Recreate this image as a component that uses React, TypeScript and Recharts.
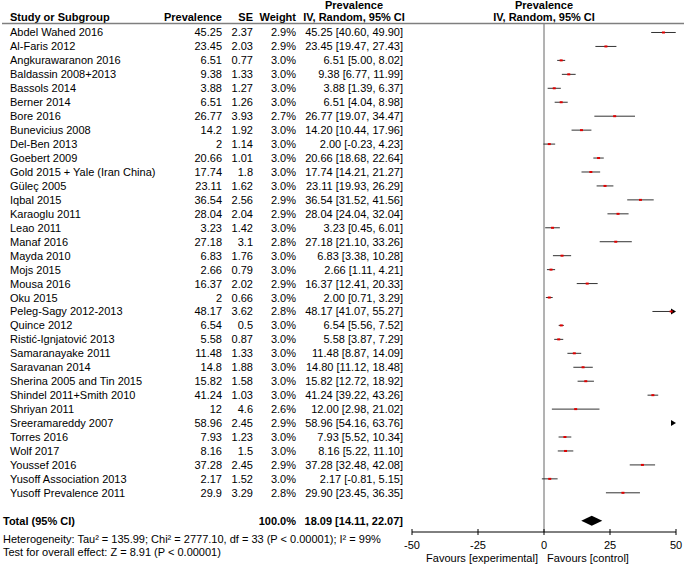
import { ScatterChart, Scatter, XAxis, YAxis, ReferenceLine } from "recharts";

const FONT = "'Liberation Sans', Arial, sans-serif";

const studies = [
  "Abdel Wahed 2016", "Al-Faris 2012", "Angkurawaranon 2016", "Baldassin 2008+2013", "Bassols 2014",
  "Berner 2014", "Bore 2016", "Bunevicius 2008", "Del-Ben 2013", "Goebert 2009",
  "Gold 2015 + Yale (Iran China)", "Güleç 2005", "Iqbal 2015", "Karaoglu 2011", "Leao 2011",
  "Manaf 2016", "Mayda 2010", "Mojs 2015", "Mousa 2016", "Oku 2015",
  "Peleg-Sagy 2012-2013", "Quince 2012", "Ristić-Ignjatović 2013", "Samaranayake 2011", "Saravanan 2014",
  "Sherina 2005 and Tin 2015", "Shindel 2011+Smith 2010", "Shriyan 2011", "Sreeramareddy 2007", "Torres 2016",
  "Wolf 2017", "Youssef 2016", "Yusoff Association 2013", "Yusoff Prevalence 2011",
];
const prevalence = [
  45.25, 23.45, 6.51, 9.38, 3.88, 6.51, 26.77, 14.2, 2, 20.66,
  17.74, 23.11, 36.54, 28.04, 3.23, 27.18, 6.83, 2.66, 16.37, 2,
  48.17, 6.54, 5.58, 11.48, 14.8, 15.82, 41.24, 12, 58.96, 7.93,
  8.16, 37.28, 2.17, 29.9,
];
const se = [
  2.37, 2.03, 0.77, 1.33, 1.27, 1.26, 3.93, 1.92, 1.14, 1.01,
  1.8, 1.62, 2.56, 2.04, 1.42, 3.1, 1.76, 0.79, 2.02, 0.66,
  3.62, 0.5, 0.87, 1.33, 1.88, 1.58, 1.03, 4.6, 2.45, 1.23,
  1.5, 2.45, 1.52, 3.29,
];
const weight = [
  2.9, 2.9, 3.0, 3.0, 3.0, 3.0, 2.7, 3.0, 3.0, 3.0,
  3.0, 3.0, 2.9, 2.9, 3.0, 2.8, 3.0, 3.0, 2.9, 3.0,
  2.8, 3.0, 3.0, 3.0, 3.0, 3.0, 3.0, 2.6, 2.9, 3.0,
  3.0, 2.9, 3.0, 2.8,
];
const ciLow = [
  40.6, 19.47, 5.0, 6.77, 1.39, 4.04, 19.07, 10.44, -0.23, 18.68,
  14.21, 19.93, 31.52, 24.04, 0.45, 21.1, 3.38, 1.11, 12.41, 0.71,
  41.07, 5.56, 3.87, 8.87, 11.12, 12.72, 39.22, 2.98, 54.16, 5.52,
  5.22, 32.48, -0.81, 23.45,
];
const ciHigh = [
  49.9, 27.43, 8.02, 11.99, 6.37, 8.98, 34.47, 17.96, 4.23, 22.64,
  21.27, 26.29, 41.56, 32.04, 6.01, 33.26, 10.28, 4.21, 20.33, 3.29,
  55.27, 7.52, 7.29, 14.09, 18.48, 18.92, 43.26, 21.02, 63.76, 10.34,
  11.1, 42.08, 5.15, 36.35,
];

const totalEst = 18.09;
const totalLow = 14.11;
const totalHigh = 22.07;
const xTicks = [-50, -25, 0, 25, 50];
const xMin = -50;
const xMax = 50;

const heterogeneity = "Heterogeneity: Tau² = 135.99; Chi² = 2777.10, df = 33 (P < 0.00001); I² = 99%";
const overallTest = "Test for overall effect: Z = 8.91 (P < 0.00001)";

const TOTAL_ROW = studies.length + 1;

const rows = studies.map((name, i) => ({
  row: i,
  name,
  est: prevalence[i],
  se: se[i],
  weight: weight[i],
  lo: ciLow[i],
  hi: ciHigh[i],
}));
const points = rows.filter((r) => r.est >= xMin && r.est <= xMax);
const clamp = (v: number) => Math.max(xMin, Math.min(xMax, v));
const ciText = (e: number, l: number, h: number) => `${e.toFixed(2)} [${l.toFixed(2)}, ${h.toFixed(2)}]`;

// column anchors of the table on the left
const COL_NAME = 10;
const COL_PREV = 222;
const COL_SE = 253;
const COL_WEIGHT = 296;
const COL_CI = 403;

function RowTick(props: any) {
  const { y, payload } = props;
  const r = payload.value;
  const base = y + 4;
  if (r === TOTAL_ROW) {
    return (
      <g fontFamily={FONT} fontSize={11} fill="#000" fontWeight={700}>
        <text x={3} y={base}>Total (95% CI)</text>
        <text x={COL_WEIGHT} y={base} textAnchor="end">100.0%</text>
        <text x={COL_CI} y={base} textAnchor="end">{ciText(totalEst, totalLow, totalHigh)}</text>
      </g>
    );
  }
  const d = rows[r];
  if (!d) return null;
  return (
    <g fontFamily={FONT} fontSize={11} fill="#000">
      <text x={COL_NAME} y={base}>{d.name}</text>
      <text x={COL_PREV} y={base} textAnchor="end">{String(d.est)}</text>
      <text x={COL_SE} y={base} textAnchor="end">{String(d.se)}</text>
      <text x={COL_WEIGHT} y={base} textAnchor="end">{d.weight.toFixed(1)}%</text>
      <text x={COL_CI} y={base} textAnchor="end">{ciText(d.est, d.lo, d.hi)}</text>
    </g>
  );
}

function XTick(props: any) {
  const { x, y, payload } = props;
  return (
    <g>
      <line x1={x} x2={x} y1={y - 3} y2={y + 3} stroke="#000" />
      <text x={x} y={y + 17} textAnchor="middle" fontFamily={FONT} fontSize={11} fill="#000">
        {payload.value}
      </text>
    </g>
  );
}

function CiShape(props: any) {
  const { x1, y1, x2, arrow } = props;
  const end = arrow ? x2 - 5 : x2;
  return (
    <g>
      {end > x1 && <line x1={x1} x2={end} y1={y1} y2={y1} stroke="#333" strokeWidth={1} />}
      {arrow && <polygon points={`${x2 - 5},${y1 - 3} ${x2},${y1} ${x2 - 5},${y1 + 3}`} fill="#000" />}
    </g>
  );
}

function DiamondShape(props: any) {
  const { x1, y1, x2 } = props;
  const mid = (x1 + x2) / 2;
  return <polygon points={`${x1},${y1} ${mid},${y1 - 5} ${x2},${y1} ${mid},${y1 + 5}`} fill="#000" />;
}

function PointShape(props: any) {
  const { cx, cy } = props;
  return <rect x={cx - 1.5} y={cy - 1} width={3} height={2} fill="#e00000" />;
}

export default function App() {
  return (
    <div style={{ position: "absolute", left: 0, top: 0, width: 685, height: 564, background: "#fff" }}>
      <ScatterChart width={685} height={564} margin={{ top: 23, right: 9, bottom: 0, left: 0 }}>
        <XAxis
          type="number"
          dataKey="est"
          domain={[xMin, xMax]}
          ticks={xTicks}
          interval={0}
          allowDataOverflow
          axisLine={{ stroke: "#000" }}
          tickLine={false}
          tickSize={0}
          tickMargin={0}
          height={32}
          tick={<XTick />}
        />
        <YAxis
          type="number"
          dataKey="row"
          domain={[-0.681, 35.81]}
          reversed
          allowDataOverflow
          ticks={[...rows.map((r) => r.row), TOTAL_ROW]}
          interval={0}
          axisLine={false}
          tickLine={false}
          width={412}
          tick={<RowTick />}
        />
        <ReferenceLine x={0} stroke="#666" strokeWidth={1} ifOverflow="visible" />
        {rows.map((r) => (
          <ReferenceLine
            key={r.name}
            ifOverflow="visible"
            segment={[{ x: clamp(r.lo), y: r.row }, { x: clamp(r.hi), y: r.row }]}
            shape={(p: any) => <CiShape {...p} arrow={r.hi > xMax} />}
          />
        ))}
        <ReferenceLine
          ifOverflow="visible"
          segment={[{ x: totalLow, y: TOTAL_ROW }, { x: totalHigh, y: TOTAL_ROW }]}
          shape={(p: any) => <DiamondShape {...p} />}
        />
        <Scatter data={points} isAnimationActive={false} shape={<PointShape />} />
      </ScatterChart>
      <svg
        width={685}
        height={564}
        style={{ position: "absolute", left: 0, top: 0, pointerEvents: "none" }}
        fontFamily={FONT}
        fontSize={11}
        fill="#000"
      >
        <g fontWeight={700}>
          <text x={354} y={9} textAnchor="middle">Prevalence</text>
          <text x={544} y={9} textAnchor="middle">Prevalence</text>
          <text x={COL_NAME} y={21}>Study or Subgroup</text>
          <text x={COL_PREV} y={21} textAnchor="end">Prevalence</text>
          <text x={COL_SE} y={21} textAnchor="end">SE</text>
          <text x={COL_WEIGHT} y={21} textAnchor="end">Weight</text>
          <text x={354} y={21} textAnchor="middle">IV, Random, 95% CI</text>
          <text x={544} y={21} textAnchor="middle">IV, Random, 95% CI</text>
        </g>
        <line x1={2} x2={684} y1={23.5} y2={23.5} stroke="#7f7f7f" strokeWidth={1.5} />
        <text x={3} y={542.5}>{heterogeneity}</text>
        <text x={3} y={556}>{overallTest}</text>
        <text x={538} y={562} textAnchor="end">Favours [experimental]</text>
        <text x={547} y={562}>Favours [control]</text>
      </svg>
    </div>
  );
}
